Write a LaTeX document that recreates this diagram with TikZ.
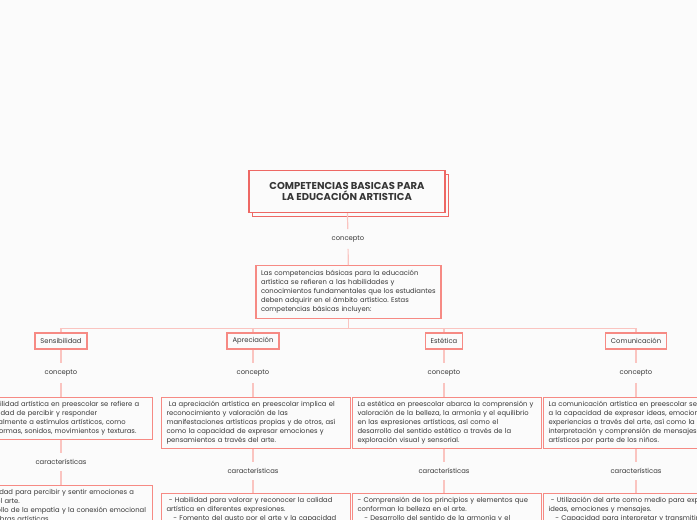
\documentclass[tikz,border=0pt]{standalone}
\usepackage{fontspec}
\setmainfont{Poppins}
\frenchspacing
\usetikzlibrary{positioning,calc,shadows}
\definecolor{ink}{RGB}{55,55,55}
\definecolor{rim}{RGB}{246,138,132}
\definecolor{headrim}{RGB}{238,104,100}
\definecolor{wire}{RGB}{250,196,192}
\definecolor{paper}{RGB}{251,251,251}
\tikzset{
  every picture/.style={color=ink, line width=1.2pt},
  box/.style={draw=rim, fill=paper, line width=1.2pt, inner xsep=5pt, inner ysep=4pt,
    align=left, font=\fontsize{6.8}{9}\selectfont, text=ink},
  desc/.style={box, text width=179pt, minimum width=189pt},
  cat/.style={box, align=center, inner xsep=5.5pt, minimum height=16pt},
  head/.style={box, draw=headrim, align=center, font=\bfseries\fontsize{10}{11.5}\selectfont,
    minimum width=196pt, minimum height=42pt, copy shadow={shadow xshift=3.5pt, shadow yshift=-4pt}},
  lbl/.style={font=\fontsize{6.8}{9}\selectfont, text=ink, inner sep=6pt},
  link/.style={draw=wire, line width=1.2pt},
}

\begin{document}
\begin{tikzpicture}[x=1pt, y=1pt]
  \path[use as bounding box, fill=paper] (0,0) rectangle (697,-520);
  \clip (0,0) rectangle (697,-520);

  % central topic
  \node[head, anchor=north] (title) at (347,-170) {COMPETENCIAS BASICAS PARA\\LA EDUCACIÓN ARTISTICA};
  \node[lbl] (c0) at (348,-239) {concepto};
  \node[box, anchor=north, text width=175pt, minimum width=185pt, minimum height=53pt] (def) at (348.5,-265)
    {Las competencias básicas para la educación\\artística se refieren a las habilidades y\\conocimientos fundamentales que los estudiantes\\deben adquirir en el ámbito artístico. Estas\\competencias básicas incluyen:};
  \draw[link] (title) -- (c0);
  \draw[link] (c0) -- (def);

  % the four competences
  \node[cat] (sens) at (61,-341) {Sensibilidad};
  \node[cat] (apre) at (253,-341) {Apreciación};
  \node[cat] (este) at (444,-341) {Estética};
  \node[cat] (comu) at (636,-341) {Comunicación};
  \foreach \k in {sens,apre,este,comu} \draw[link] (def.south) -- ++(0,-9) -| (\k.north);

  \foreach \k in {sens,apre,este,comu} {
    \node[lbl] (\k c) at ($(\k)+(0,-32)$) {concepto};
    \draw[link] (\k) -- (\k c);
  }

  % concepto boxes
  \node[desc, anchor=north east, minimum height=41pt] (sensd) at (153,-397)
    {La sensibilidad artística en preescolar se refiere a\\la capacidad de percibir y responder\\emocionalmente a estímulos artísticos, como\\colores, formas, sonidos, movimientos y texturas.};
  \node[desc, anchor=north west, minimum height=50pt] (apred) at (161,-397)
    {\ La apreciación artística en preescolar implica el\\reconocimiento y valoración de las\\manifestaciones artísticas propias y de otros, así\\como la capacidad de expresar emociones y\\pensamientos a través del arte.};
  \node[desc, anchor=north west, minimum height=50pt] (ested) at (352,-397)
    {La estética en preescolar abarca la comprensión y\\valoración de la belleza, la armonía y el equilibrio\\en las expresiones artísticas, así como el\\desarrollo del sentido estético a través de la\\exploración visual y sensorial.};
  \node[desc, anchor=north west, minimum height=50pt] (comud) at (543,-397)
    {La comunicación artística en preescolar se refiere\\a la capacidad de expresar ideas, emociones y\\experiencias a través del arte, así como la\\interpretación y comprensión de mensajes\\artísticos por parte de los niños.};
  \foreach \k in {sens,apre,este,comu} \draw[link] (\k c) -- (\k c |- \k d.north);

  % características
  \node[lbl] (sensk) at (61,-462) {características};
  \node[lbl] (aprek) at (253,-471) {características};
  \node[lbl] (estek) at (444,-471) {características};
  \node[lbl] (comuk) at (636,-471) {características};
  \foreach \k in {sens,apre,este,comu} \draw[link] (\k k |- \k d.south) -- (\k k);

  \node[desc, anchor=north east] (senst) at (153,-485)
    {- Capacidad para percibir y sentir emociones a\\través del arte.\\- Desarrollo de la empatía y la conexión emocional\\con las obras artísticas.};
  \node[desc, anchor=north west] (apret) at (161,-493)
    {\ - Habilidad para valorar y reconocer la calidad\\artística en diferentes expresiones.\\\quad- Fomento del gusto por el arte y la capacidad de};
  \node[desc, anchor=north west] (estet) at (352,-493)
    {- Comprensión de los principios y elementos que\\conforman la belleza en el arte.\\\quad- Desarrollo del sentido de la armonía y el};
  \node[desc, anchor=north west] (comut) at (543,-493)
    {\ - Utilización del arte como medio para expresar\\ideas, emociones y mensajes.\\\quad- Capacidad para interpretar y transmitir};
  \foreach \k in {sens,apre,este,comu} \draw[link] (\k k) -- (\k k |- \k t.north);
\end{tikzpicture}
\end{document}
